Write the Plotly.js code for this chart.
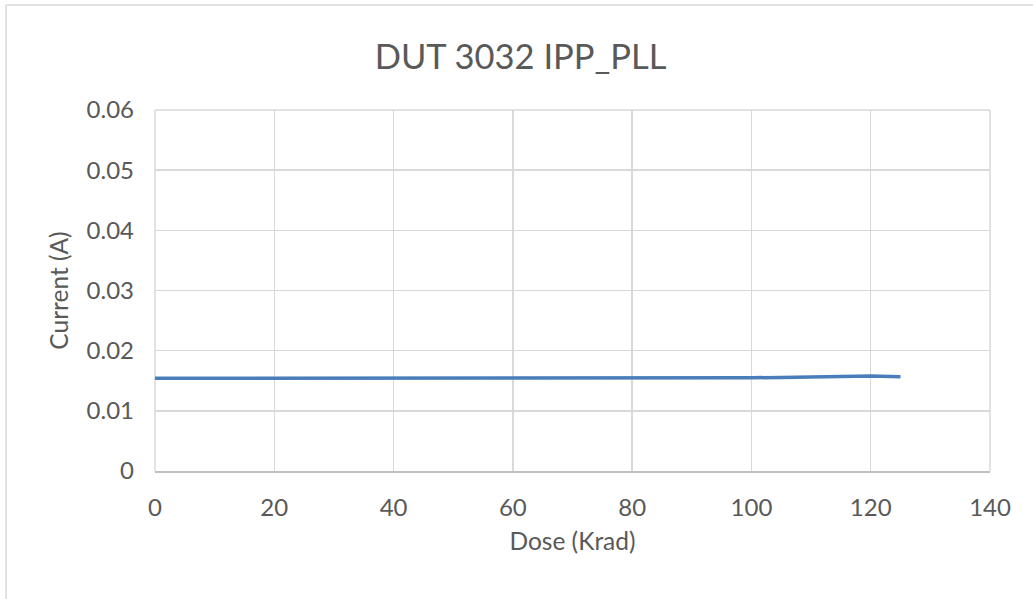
<!DOCTYPE html>
<html>
<head>
<meta charset="utf-8">
<script src="https://cdn.plot.ly/plotly-3.0.1.min.js"></script>
<style>html,body{margin:0;padding:0;background:#fff;}#chart{width:1033px;height:599px;}</style>
</head>
<body>
<div id="chart"></div>
<script>
const dose = [0, 5, 10, 15, 20, 25, 30, 35, 40, 45, 50, 55, 60, 65, 70, 75, 80, 85, 90, 95, 100, 105, 110, 115, 120, 125];
const current = [0.0154, 0.0154, 0.0154, 0.0154, 0.0154, 0.0154, 0.0154, 0.0154, 0.0154, 0.0154, 0.0154, 0.0154, 0.0154, 0.0154, 0.0154, 0.0154, 0.0154, 0.01543, 0.01546, 0.01548, 0.0155, 0.01555, 0.01565, 0.01572, 0.01578, 0.01565];
const xTicks = [0, 20, 40, 60, 80, 100, 120, 140];
const yTicks = [0, 0.01, 0.02, 0.03, 0.04, 0.05, 0.06];
const yTickText = ['0', '0.01', '0.02', '0.03', '0.04', '0.05', '0.06'];

const font = 'Lato, "Open Sans", sans-serif';
const trace = {
  x: dose, y: current, type: 'scatter', mode: 'lines',
  line: {color: '#4a7ebb', width: 3.5}, hoverinfo: 'skip'
};
const W = 1033, H = 599, L = 155, R = 43, T = 110, B = 128;
const pw = W - L - R, ph = H - T - B;
const bx = (6 - L) / pw, by = (H - B - 5) / ph;
const layout = {
  width: W, height: H,
  margin: {l: L, r: R, t: T, b: B, pad: 0},
  paper_bgcolor: '#fff', plot_bgcolor: '#fff',
  showlegend: false,
  title: {text: 'DUT 3032 IPP_PLL', font: {family: font, size: 34.5, color: '#595959'}, x: 0.504, xanchor: 'center', y: 0.905, yanchor: 'middle'},
  xaxis: {
    range: [0, 140], tickvals: xTicks, ticktext: xTicks.map(String),
    showgrid: true, gridcolor: '#d9d9d9', gridwidth: 1.5,
    showline: true, linecolor: '#bfbfbf', linewidth: 1.5,
    zeroline: false, ticks: '', ticklabelstandoff: 15,
    tickfont: {family: font, size: 24, color: '#595959'},
    title: {text: 'Dose (Krad)', font: {family: font, size: 24.5, color: '#595959'}, standoff: 12}
  },
  yaxis: {
    range: [0, 0.06], tickvals: yTicks, ticktext: yTickText,
    showgrid: true, gridcolor: '#d9d9d9', gridwidth: 1.5,
    showline: false, zeroline: false, ticks: '', ticklabelstandoff: 20,
    tickfont: {family: font, size: 24, color: '#595959'},
    title: {text: 'Current (A)', font: {family: font, size: 24.5, color: '#595959'}, standoff: 10}
  },
  shapes: [
    {type: 'line', xref: 'paper', yref: 'paper', x0: bx, x1: bx, y0: -1, y1: by, line: {color: '#d9d9d9', width: 1.5}},
    {type: 'line', xref: 'paper', yref: 'paper', x0: bx, x1: 2, y0: by, y1: by, line: {color: '#d9d9d9', width: 1.5}},
    {type: 'line', xref: 'paper', yref: 'paper', x0: 0, x1: 1, y0: 1, y1: 1, line: {color: '#d9d9d9', width: 1.5}, layer: 'below'},
    {type: 'line', xref: 'paper', yref: 'paper', x0: 0, x1: 0, y0: 0, y1: 1, line: {color: '#d9d9d9', width: 1.5}, layer: 'below'},
    {type: 'line', xref: 'paper', yref: 'paper', x0: 1, x1: 1, y0: 0, y1: 1, line: {color: '#d9d9d9', width: 1.5}, layer: 'below'}
  ]
};
Plotly.newPlot('chart', [trace], layout, {displayModeBar: false, staticPlot: true});
</script>
</body>
</html>
